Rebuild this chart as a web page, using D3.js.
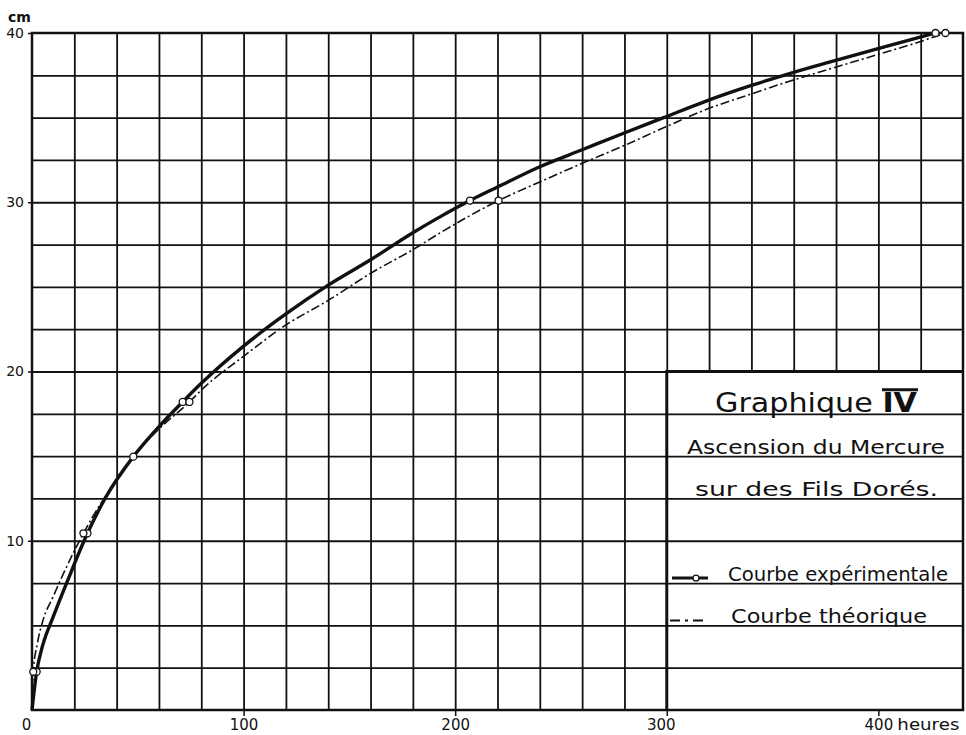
<!DOCTYPE html>
<html>
<head>
<meta charset="utf-8">
<script src="https://cdn.jsdelivr.net/npm/d3@7"></script>
<style>
  body { margin: 0; background: #fff; }
  #container { width: 966px; height: 735px; }
  text { font-family: "DejaVu Sans", sans-serif; fill: #111; }
</style>
</head>
<body>
<div id="container"></div>
<script>
// readings from the plate (hours, cm)
const expHours = [0, 2.2, 5, 10, 17, 26.2, 35, 47.9, 59.7, 71.2, 80, 100, 120, 140, 160, 180, 193, 207, 220, 240, 260, 279, 298.5, 318, 340, 358, 379, 399, 421, 427];
const expHeight = [0, 2.26, 3.8, 5.5, 7.7, 10.44, 12.6, 14.97, 16.7, 18.2, 19.3, 21.5, 23.4, 25.1, 26.6, 28.2, 29.15, 30.1, 30.9, 32.1, 33.1, 34.05, 35.0, 35.95, 36.9, 37.6, 38.35, 39.05, 39.8, 40];
const expMarks = [2.2, 26.2, 47.9, 71.2, 207, 427];

const theoHours = [0, 0.6, 2.5, 5.2, 10, 15, 20, 24.3, 33, 40, 47.9, 60, 74.4, 80, 100, 120, 140, 160, 180, 193, 220.5, 240, 260, 279, 298.5, 318, 340, 358, 379, 399, 420, 431.7];
const theoHeight = [0, 2.26, 3.9, 5.3, 6.7, 8.1, 9.4, 10.44, 12.3, 13.6, 14.97, 16.6, 18.2, 18.9, 20.9, 22.75, 24.2, 25.8, 27.2, 28.2, 30.1, 31.2, 32.3, 33.3, 34.4, 35.45, 36.4, 37.15, 37.95, 38.7, 39.5, 40];
const theoMarks = [0.6, 24.3, 74.4, 220.5, 431.7];

const xTicks = [0, 100, 200, 300, 400];
const yTicks = [10, 20, 30, 40];
const titleLines = ["Ascension du Mercure", "sur des Fils Dorés."];
const legendLabels = ["Courbe expérimentale", "Courbe théorique"];

function drawPlate() {
    const W = 966, H = 735;
    const svg = d3.select("#container").append("svg")
        .attr("width", W).attr("height", H)
        .attr("viewBox", `0 0 ${W} ${H}`);

    const x = d3.scaleLinear().domain([0, 440]).range([32, 963]);
    const y = d3.scaleLinear().domain([0, 40]).range([710, 33]);
    const ink = "#111";

    // vertical grid every 20 h
    svg.append("g").attr("transform", `translate(0,${y(0)})`)
        .call(d3.axisBottom(x).tickValues(d3.range(20, 440, 20)).tickSize(-(y(0) - y(40))).tickFormat(""))
        .call(g => g.select(".domain").remove())
        .selectAll("line").attr("stroke", ink).attr("stroke-width", 1.8);

    // legend box blanks out the grid
    const bx = x(300), by = y(20);
    svg.append("rect").attr("x", bx).attr("y", by)
        .attr("width", x(440) - bx).attr("height", y(0) - by).attr("fill", "#fff");

    // horizontal grid every 2.5 cm
    svg.append("g").attr("transform", `translate(${x(0)},0)`)
        .call(d3.axisLeft(y).tickValues(d3.range(2.5, 40, 2.5)).tickSize(-(x(440) - x(0))).tickFormat(""))
        .call(g => g.select(".domain").remove())
        .selectAll("line").attr("stroke", ink).attr("stroke-width", 1.8);

    // frame
    svg.append("rect").attr("x", x(0)).attr("y", y(40))
        .attr("width", x(440) - x(0)).attr("height", y(0) - y(40))
        .attr("fill", "none").attr("stroke", ink).attr("stroke-width", 2.5);
    svg.append("path").attr("d", `M${bx},${y(0)}V${by}H${x(440)}`)
        .attr("fill", "none").attr("stroke", ink).attr("stroke-width", 3);

    // axes labels
    const xa = svg.append("g").attr("transform", `translate(0,${y(0)})`)
        .call(d3.axisBottom(x).tickValues(xTicks).tickSize(6).tickPadding(3).tickFormat(d3.format("d")));
    xa.select(".domain").remove();
    xa.selectAll("line").attr("stroke", ink).attr("stroke-width", 1.5);
    xa.selectAll("text").attr("font-size", 15).style("font-family", "DejaVu Sans").attr("fill", ink)
        .attr("dx", d => d === 0 ? -6 : (d === 300 ? -6 : 0));
    xa.selectAll(".tick").filter(d => d === 0).select("line").remove();
    svg.append("text").attr("x", x(400) + 19).attr("y", y(0) + 20)
        .attr("font-size", 15).attr("textLength", 62).attr("lengthAdjust", "spacingAndGlyphs")
        .text("heures");

    const ya = svg.append("g").attr("transform", `translate(${x(0)},0)`)
        .call(d3.axisLeft(y).tickValues(yTicks).tickSize(4).tickPadding(4).tickFormat(d3.format("d")));
    ya.select(".domain").remove();
    ya.selectAll("line").attr("stroke", ink).attr("stroke-width", 1.5);
    ya.selectAll("text").attr("font-size", 14).style("font-family", "DejaVu Sans").attr("fill", ink);
    svg.append("text").attr("x", 8).attr("y", 22).attr("font-size", 14).attr("font-weight", "bold").text("cm");

    // curves
    const line = d3.line().x(d => x(d[0])).y(d => y(d[1])).curve(d3.curveMonotoneX);
    const expData = expHours.map((t, i) => [t, expHeight[i]]);
    const theoData = theoHours.map((t, i) => [t, theoHeight[i]]);

    svg.append("path").datum(theoData).attr("d", line)
        .attr("fill", "none").attr("stroke", ink).attr("stroke-width", 1.6)
        .attr("stroke-dasharray", "9,3,2,3");
    svg.append("path").datum(expData).attr("d", line)
        .attr("fill", "none").attr("stroke", ink).attr("stroke-width", 3.4);

    const heightAt = (hours, heights, t) => heights[hours.indexOf(t)];
    svg.selectAll("circle.exp").data(expMarks).enter().append("circle")
        .attr("class", "exp")
        .attr("cx", d => x(d)).attr("cy", d => y(heightAt(expHours, expHeight, d)))
        .attr("r", 3.5).attr("fill", "#fff").attr("stroke", ink).attr("stroke-width", 1.3);
    svg.selectAll("circle.theo").data(theoMarks).enter().append("circle")
        .attr("class", "theo")
        .attr("cx", d => x(d)).attr("cy", d => y(heightAt(theoHours, theoHeight, d)))
        .attr("r", 3.5).attr("fill", "#fff").attr("stroke", ink).attr("stroke-width", 1.3);

    // title block
    const title = svg.append("text").attr("x", 715).attr("y", y(17.5) - 2)
        .attr("font-size", 27).attr("textLength", 202).attr("lengthAdjust", "spacingAndGlyphs");
    title.append("tspan").text("Graphique ");
    title.append("tspan").attr("font-weight", "bold").text("IV");
    svg.append("line").attr("x1", 882).attr("x2", 918).attr("y1", y(17.5) - 24).attr("y2", y(17.5) - 24)
        .attr("stroke", ink).attr("stroke-width", 3);

    svg.selectAll("text.sub").data(titleLines).enter().append("text")
        .attr("class", "sub")
        .attr("x", (d, i) => i === 0 ? 687 : 695)
        .attr("y", (d, i) => y(15 - i * 2.5) - 2)
        .attr("font-size", 20)
        .attr("textLength", (d, i) => i === 0 ? 258 : 243)
        .attr("lengthAdjust", "spacingAndGlyphs")
        .text(d => d);

    // legend
    const ly = [y(7.5) - 5, y(5) - 5];
    svg.append("line").attr("x1", 672).attr("x2", 708).attr("y1", ly[0]).attr("y2", ly[0])
        .attr("stroke", ink).attr("stroke-width", 3);
    svg.append("circle").attr("cx", 696).attr("cy", ly[0]).attr("r", 3)
        .attr("fill", "#fff").attr("stroke", ink).attr("stroke-width", 1.3);
    svg.append("line").attr("x1", 670).attr("x2", 708).attr("y1", ly[1]).attr("y2", ly[1])
        .attr("stroke", ink).attr("stroke-width", 2).attr("stroke-dasharray", "10,5,3,5");

    svg.selectAll("text.leg").data(legendLabels).enter().append("text")
        .attr("class", "leg")
        .attr("x", (d, i) => i === 0 ? 728 : 731)
        .attr("y", (d, i) => y(7.5 - i * 2.5) - 2)
        .attr("font-size", 19)
        .attr("textLength", (d, i) => i === 0 ? 220 : 196)
        .attr("lengthAdjust", "spacingAndGlyphs")
        .text(d => d);
}

drawPlate();
</script>
</body>
</html>
